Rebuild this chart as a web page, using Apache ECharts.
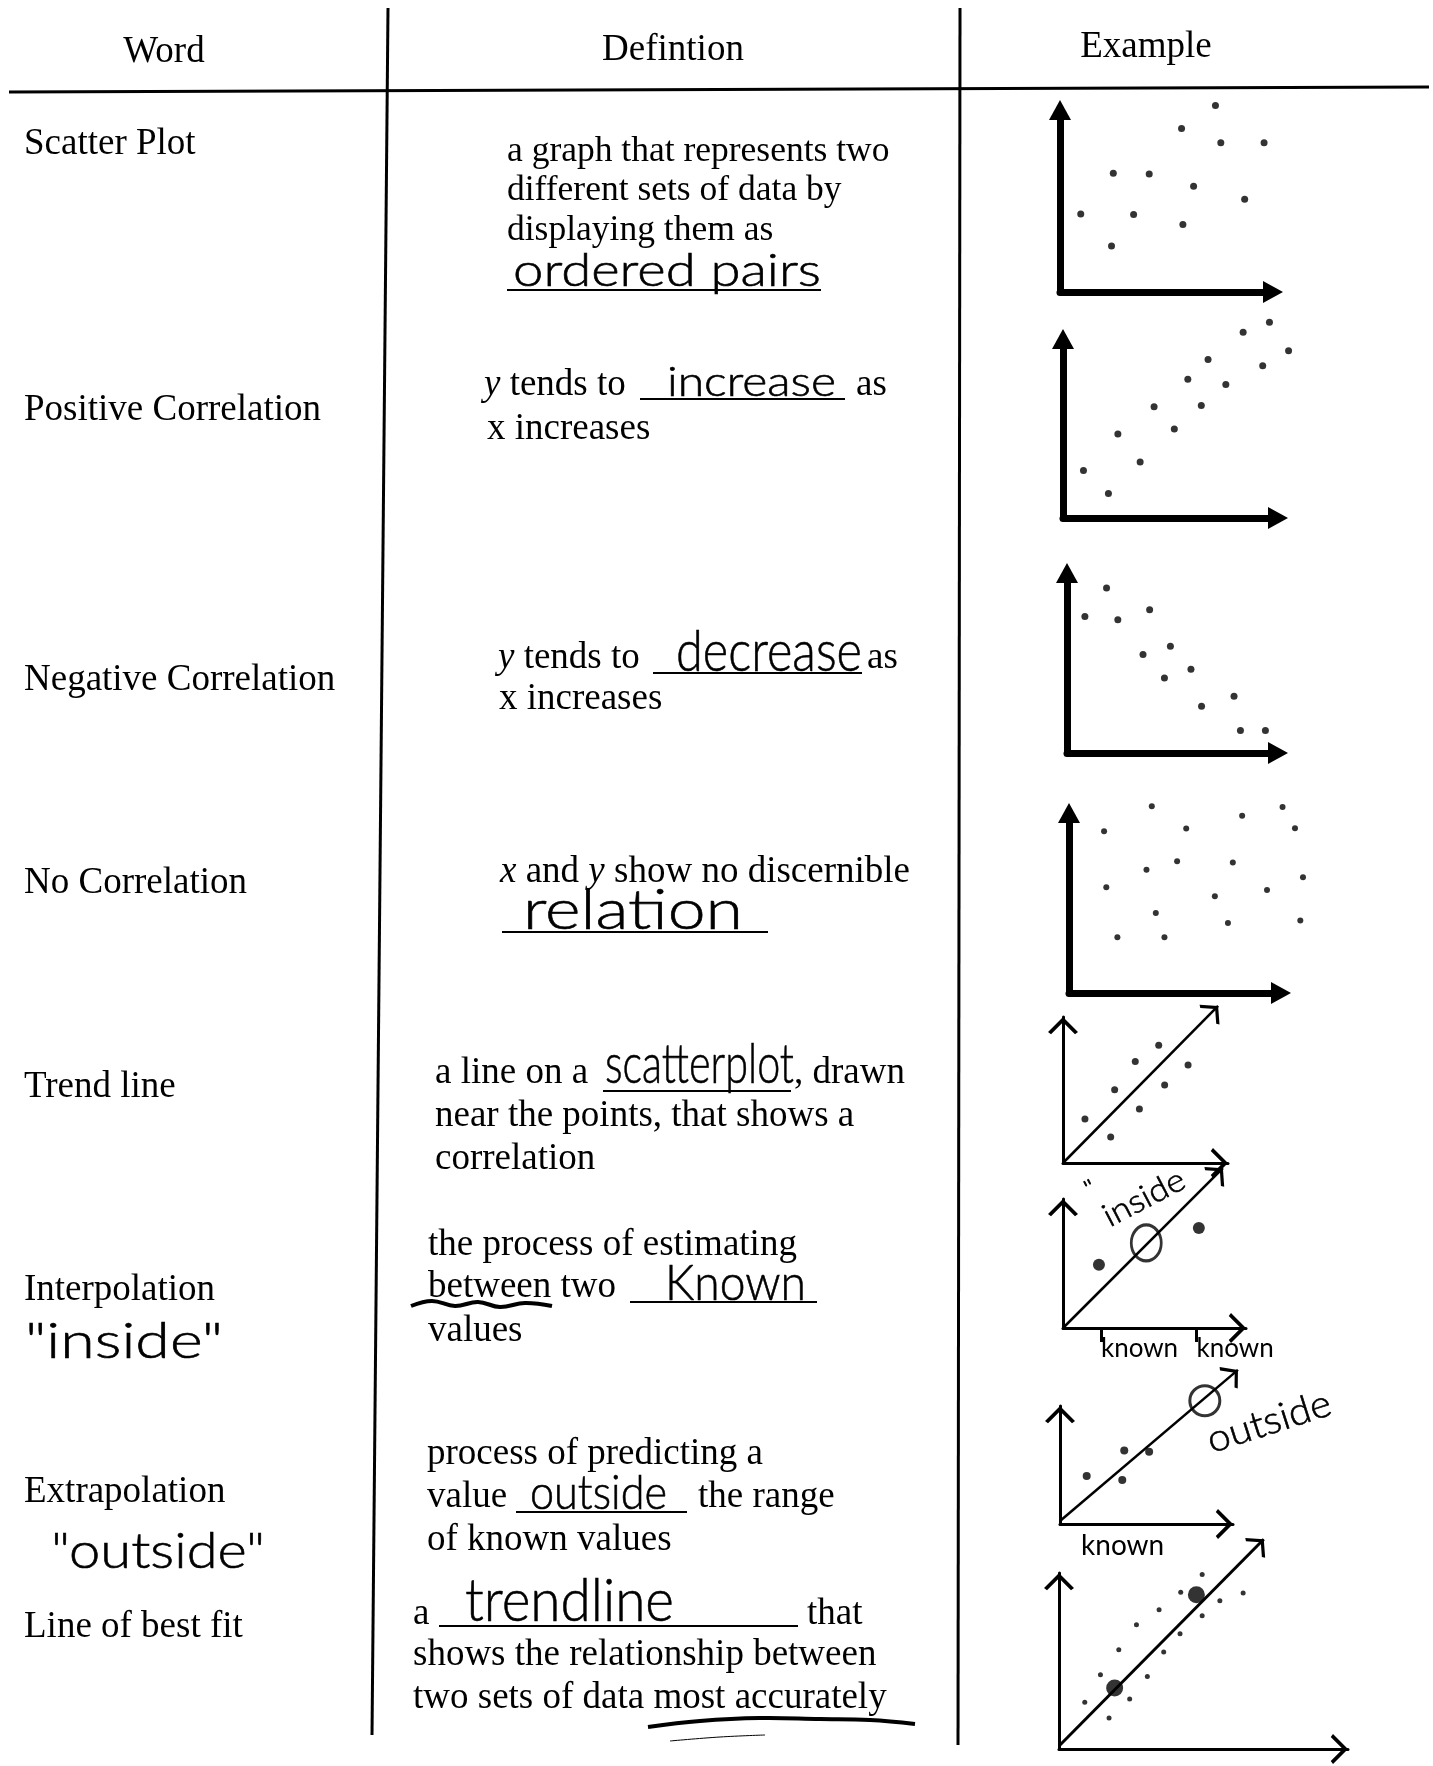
<!DOCTYPE html>
<html>
<head>
<meta charset="utf-8">
<script src="https://cdn.jsdelivr.net/npm/echarts@6/dist/echarts.min.js"></script>
<style>
  html, body { margin: 0; padding: 0; background: #fff; }
  #sheet { width: 1433px; height: 1766px; }
</style>
</head>
<body>
<div id="sheet"></div>
<script>
// ---- data (each plot in its own 0..10-ish units) ----
var scatterPts = [[6.97,9.72],[5.45,8.51],[7.21,7.77],[9.15,7.77],[2.39,6.19],[4.0,6.15],[5.99,5.51],[8.28,4.83],[0.93,4.06],[3.3,4.04],[5.51,3.51],[2.31,2.4]];
var positivePts = [[9.18,10.36],[8.01,9.83],[10.03,8.85],[6.45,8.38],[8.88,8.06],[5.55,7.34],[7.24,7.06],[4.05,5.89],[6.15,5.95],[4.95,4.71],[2.44,4.44],[3.43,2.96],[0.91,2.51],[2.02,1.3]];
var negativePts = [[1.79,8.68],[0.81,7.18],[2.3,7.01],[3.74,7.54],[4.68,5.62],[3.44,5.18],[5.61,4.4],[4.41,3.94],[7.56,2.99],[6.09,2.46],[7.85,1.18],[8.98,1.18]];
var noCorrPts = [[3.73,9.82],[9.62,9.79],[7.8,9.32],[1.58,8.51],[5.28,8.65],[10.18,8.67],[4.87,6.93],[7.38,6.86],[3.49,6.49],[10.54,6.09],[1.68,5.56],[8.92,5.42],[6.57,5.09],[3.91,4.21],[7.16,3.68],[10.42,3.81],[2.18,2.93],[4.3,2.93]];

var trendPts = [[5.8,8.02],[4.38,6.91],[7.58,6.68],[3.13,5.0],[6.16,5.32],[4.63,3.68],[1.33,3.0],[2.89,1.77]];
var trendLine = [[0,0],[9.4,10.7]];

var interpPts = [[2.18,4.32],[8.24,6.82]];
var interpEstimate = [[5.05,5.8]];
var interpLine = [[0,0],[9.7,10.9]];
var knownX = [2.3, 8.1];

var extrapPts = [[1.62,3.27],[3.9,5.0],[5.41,4.93],[3.78,3.0]];
var extrapEstimate = [[8.79,8.4]];
var extrapLine = [[0,0.2],[10.8,10.5]];
var extrapKnownX = [3.8];

var bestFitPts = [[1.56,3.18],[2.51,5.07],[3.03,2.11],[4.28,3.41],[5.35,4.95],[3.62,6.77],[6.34,6.61],[4.69,8.48],[7.33,7.86],[6.06,9.5],[8.67,9.09],[7.37,10.68],[9.74,10.11],[11.15,10.64],[8.67,11.89]];
var bestFitBig = [[3.37,4.16],[8.32,10.52]];
var bestFitLine = [[0,0.2],[12.4,14.3]];

// ---- layout ----
var SERIF = "'Liberation Serif', 'Times New Roman', serif";
var HAND = "Lato, 'Open Sans', sans-serif";
var HAND_W = 300;
// open chevron, apex at the centre of its box
var CHEV = 'path://M20,-23L20.01,-23Z M0,20L20,0L40,20L36,23L20,7L4,23Z';

// [left, top, width, height, xMax, yMax, hand-drawn?]
var plots = [
  [1060, 110, 213, 182, 9.55, 9.48, false],
  [1063, 339, 215, 179, 9.56, 9.47, false],
  [1067, 573, 211, 180, 9.55, 9.47, false],
  [1069, 813, 212, 180, 9.55, 9.47, false],
  [1063, 1017, 165, 146, 10, 9.95, true],
  [1063, 1199, 183, 129, 11.1, 8.8, true],
  [1060, 1406, 173, 118, 10.5, 8.04, true],
  [1059, 1573, 289, 176, 17.5, 12, true]
];

var grids = [], xAxes = [], yAxes = [];
plots.forEach(function (p, i) {
  grids.push({left: p[0], top: p[1], width: p[2], height: p[3]});
  var axLine = p[6]
    ? {show: true, onZero: false, symbol: ['none', CHEV], symbolSize: [30, 35], lineStyle: {color: '#000', width: 3}}
    : {show: true, onZero: false, symbol: ['none', 'triangle'], symbolSize: [22, 20], lineStyle: {color: '#000', width: 7}};
  xAxes.push({gridIndex: i, type: 'value', min: 0, max: p[4], axisLine: axLine,
    axisTick: {show: false}, axisLabel: {show: false}, splitLine: {show: false}});
  yAxes.push({gridIndex: i, type: 'value', min: 0, max: p[5], axisLine: axLine,
    axisTick: {show: false}, axisLabel: {show: false}, splitLine: {show: false}});
});

// "known" marks under the hand drawn x axes
xAxes[5].axisTick = {show: true, customValues: knownX, length: 14, lineStyle: {color: '#000', width: 3}};
xAxes[5].axisLabel = {show: true, customValues: knownX, formatter: function () { return 'known'; },
  color: '#000', fontFamily: HAND, fontWeight: 400, fontSize: 26, margin: 8, align: 'left'};
xAxes[6].axisLabel = {show: true, customValues: extrapKnownX, formatter: function () { return 'known'; },
  color: '#000', fontFamily: HAND, fontWeight: 400, fontSize: 28, margin: 8};

function dots(i, data, size, extra) {
  var s = {type: 'scatter', xAxisIndex: i, yAxisIndex: i, data: data, symbol: 'circle',
    symbolSize: size, clip: false, silent: true, itemStyle: {color: '#000'}};
  for (var k in extra) s[k] = extra[k];
  return s;
}
function ring(i, data, size) {
  return dots(i, data, size, {itemStyle: {color: 'rgba(0,0,0,0)', borderColor: '#000', borderWidth: 3}});
}
function trend(i, pts, width) {
  return {type: 'lines', coordinateSystem: 'cartesian2d', xAxisIndex: i, yAxisIndex: i,
    clip: false, silent: true, symbol: ['none', CHEV], symbolSize: [24, 28],
    lineStyle: {color: '#000', width: width, opacity: 1, curveness: 0},
    data: [{coords: pts}]};
}

var series = [
  dots(0, scatterPts, 7),
  dots(1, positivePts, 7),
  dots(2, negativePts, 7),
  dots(3, noCorrPts, 6),
  dots(4, trendPts, 7),
  trend(4, trendLine, 2.5),
  dots(5, interpPts, 12),
  ring(5, interpEstimate, [30, 36]),
  trend(5, interpLine, 2.5),
  dots(6, extrapPts, 8),
  ring(6, extrapEstimate, [30, 30]),
  trend(6, extrapLine, 2.5),
  dots(7, bestFitPts, 5),
  dots(7, bestFitBig, 17),
  trend(7, bestFitLine, 3)
];

// ---- printed and handwritten text of the worksheet ----
var G = [];
var ctx = document.createElement('canvas').getContext('2d');

function rule(x1, y1, x2, y2, w) {
  G.push({type: 'line', silent: true, shape: {x1: x1, y1: y1, x2: x2, y2: y2},
    style: {stroke: '#000', lineWidth: w || 2}});
}
function squiggle(points, w) {
  G.push({type: 'polyline', silent: true, shape: {points: points, smooth: 0.4},
    style: {stroke: '#000', lineWidth: w, fill: null}});
}
function print(x, y, text, align, size) {
  size = size || 37;
  G.push({type: 'text', x: x, y: y + 2, silent: true, style: {text: text, fontFamily: SERIF, fontSize: size,
    fill: '#000', textAlign: align || 'left', align: align || 'left',
    textVerticalAlign: 'middle', verticalAlign: 'middle',
    rich: {i: {fontFamily: SERIF, fontSize: size, fontStyle: 'italic', fill: '#000', color: '#000'}}}});
}
function handStyle(text, size, align) {
  return {text: text, fontFamily: HAND, fontWeight: HAND_W, fontSize: size, fill: '#000',
    stroke: '#000', lineWidth: 0.6,
    textAlign: align, align: align, textVerticalAlign: 'middle', verticalAlign: 'middle'};
}
function handWidth(text, size) {
  ctx.font = HAND_W + ' ' + size + 'px ' + HAND;
  return ctx.measureText(text).width;
}
function hand(x1, x2, baseline, text, size) {
  G.push({type: 'text', x: x1, y: baseline - 0.32 * size, scaleX: (x2 - x1) / handWidth(text, size),
    silent: true, style: handStyle(text, size, 'left')});
}
function handRot(cx, cy, text, size, width, rot) {
  G.push({type: 'text', x: cx, y: cy, scaleX: width / handWidth(text, size), rotation: rot,
    silent: true, style: handStyle(text, size, 'center')});
}

// table rules
rule(9, 92, 1429, 87, 3);
rule(388, 8, 372, 1735, 3);
rule(960, 8, 958, 1745, 3);

// headers
print(164, 50, 'Word', 'center');
print(673, 48, 'Defintion', 'center');
print(1146, 45, 'Example', 'center');

// word column
print(24, 142, 'Scatter Plot');
print(24, 408, 'Positive Correlation');
print(24, 678, 'Negative Correlation');
print(24, 881, 'No Correlation');
print(24, 1085, 'Trend line');
print(24, 1288, 'Interpolation');
hand(25, 223, 1358, '"inside"', 50);
print(24, 1490, 'Extrapolation');
hand(51, 265, 1568, '"outside"', 50);
print(24, 1625, 'Line of best fit');

// definition column
print(507, 150, 'a graph that represents two', 'left', 35.5);
print(507, 189, 'different sets of data by', 'left', 35.5);
print(507, 229, 'displaying them as', 'left', 35.5);
hand(513, 821, 286, 'ordered pairs', 46);
rule(507, 290, 821, 290);

print(484, 383, '{i|y} tends to');
hand(667, 836, 396, 'increase', 42);
rule(640, 399, 845, 399);
print(856, 383, 'as');
print(487, 427, 'x increases');

print(498, 656, '{i|y} tends to');
hand(676, 862, 671, 'decrease', 58);
rule(653, 673, 862, 673);
print(867, 656, 'as');
print(499, 697, 'x increases');

print(500, 870, '{i|x} and {i|y} show no discernible');
hand(523, 743, 929, 'relation', 56);
rule(502, 932, 768, 932);

print(435, 1071, 'a line on a');
hand(605, 794, 1083, 'scatterplot', 56);
rule(603, 1091, 791, 1091);
print(794, 1071, ', drawn');
print(435, 1114, 'near the points, that shows a');
print(435, 1157, 'correlation');

print(428, 1243, 'the process of estimating');
print(428, 1285, 'between two');
squiggle([[411, 1306], [432, 1301], [455, 1306], [478, 1302], [500, 1307], [525, 1303], [552, 1306]], 4);
hand(665, 806, 1300, 'Known', 50);
rule(630, 1302, 817, 1302);
print(428, 1329, 'values');

print(427, 1452, 'process of predicting a');
print(427, 1495, 'value');
hand(530, 667, 1509, 'outside', 48);
rule(516, 1512, 687, 1512);
print(698, 1495, 'the range');
print(427, 1538, 'of known values');

print(413, 1612, 'a');
hand(465, 674, 1621, 'trendline', 60);
rule(439, 1626, 798, 1626);
print(807, 1612, 'that');
print(413, 1653, 'shows the relationship between');
print(413, 1696, 'two sets of data most accurately');
squiggle([[648, 1727], [700, 1721], [760, 1718], [820, 1719], [870, 1720], [915, 1724]], 4);
squiggle([[670, 1741], [720, 1737], [765, 1735]], 1);

// notes inside the example sketches
handRot(1090, 1188, '"', 22, 10, 0.48);
handRot(1144, 1198, 'inside', 32, 88, 0.48);
handRot(1269, 1422, 'outside', 38, 128, 0.31);

var chart = echarts.init(document.getElementById('sheet'));
chart.setOption({
  animation: false,
  backgroundColor: '#fff',
  grid: grids,
  xAxis: xAxes,
  yAxis: yAxes,
  series: series,
  graphic: {elements: G}
});
</script>
</body>
</html>
